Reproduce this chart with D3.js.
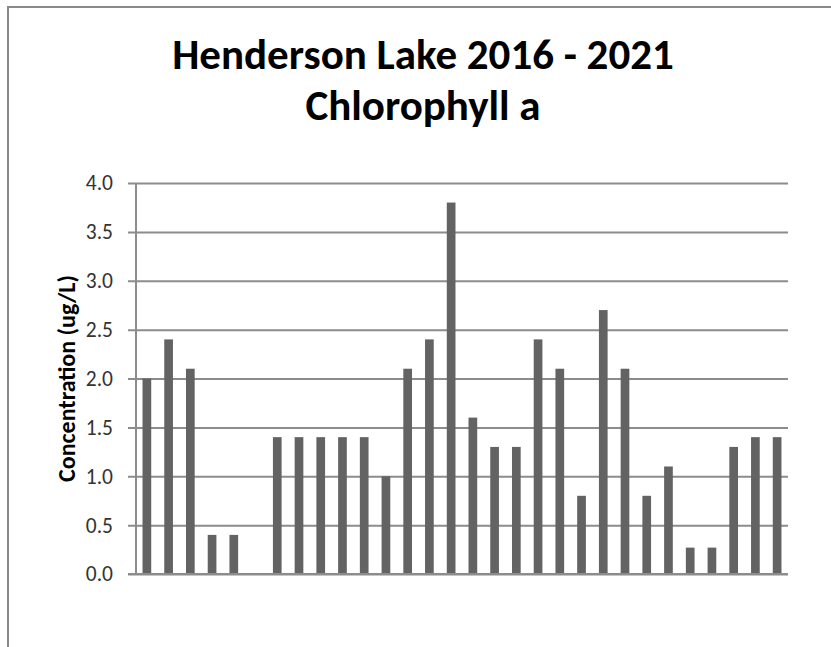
<!DOCTYPE html>
<html>

<head>
    <meta charset="UTF-8">
    <title>Henderson Lake Chlorophyll a</title>
    <script src="https://d3js.org/d3.v7.min.js"></script>
    <style>
        body {
            margin: 0;
            background-color: white;
        }
        text {
            font-family: Calibri, Carlito, Lato, sans-serif;
        }
    </style>
</head>

<body>
    <div id="chart">
    </div>
    <script>
        (function(d3) {

            // one value per sample, in the order drawn (null = no sample)
            var chlorophyll = [2.0, 2.4, 2.1, 0.4, 0.4, null,
                1.4, 1.4, 1.4, 1.4, 1.4, 1.0, 2.1, 2.4, 3.8, 1.6, 1.3, 1.3,
                2.4, 2.1, 0.8, 2.7, 2.1, 0.8, 1.1, 0.27, 0.27, 1.3, 1.4, 1.4];
            var samples = chlorophyll.map(function(d, i) { return 'S' + (i + 1); });
            var yTicks = [0, 0.5, 1.0, 1.5, 2.0, 2.5, 3.0, 3.5, 4.0];
            var titleLines = ['Henderson Lake 2016 - 2021', 'Chlorophyll a'];
            var yTitle = 'Concentration (ug/L)';

            var width = 831;
            var height = 647;
            var margin = { top: 183, right: 43, bottom: 73, left: 136 };
            var plotW = width - margin.left - margin.right;
            var plotH = height - margin.top - margin.bottom;

            var svg = d3.select('#chart')
                .append('svg')
                    .attr('width', width)
                    .attr('height', height);

            svg.append('rect')
                .attr('width', width)
                .attr('height', height)
                .attr('fill', 'white');

            // chart frame (runs off the right and bottom edges)
            svg.append('rect')
                .attr('x', 8)
                .attr('y', 7)
                .attr('width', width + 10)
                .attr('height', height + 10)
                .attr('fill', 'none')
                .attr('stroke', '#8a8a8a')
                .attr('stroke-width', 2);

            svg.selectAll('.title')
                .data(titleLines)
                .enter()
                .append('text')
                .attr('class', 'title')
                .attr('x', 423)
                .attr('y', function(d, i) { return 69 + i * 51; })
                .attr('text-anchor', 'middle')
                .style('font-size', '43px')
                .style('font-weight', 'bold')
                .attr('fill', '#000')
                .text(function(d) { return d; });

            var g = svg.append('g')
                .attr('transform', 'translate(' + margin.left + ',' + margin.top + ')');

            var x = d3.scaleBand()
                .domain(samples)
                .range([0, plotW])
                .paddingInner(0.6)
                .paddingOuter(0.3);

            var y = d3.scaleLinear()
                .domain([0, 4])
                .range([plotH, 0]);

            var yAxis = g.append('g')
                .call(d3.axisLeft(y)
                    .tickValues(yTicks)
                    .tickFormat(d3.format('.1f'))
                    .tickSizeInner(-plotW)
                    .tickSizeOuter(0)
                    .tickPadding(23));

            yAxis.select('.domain').remove();
            yAxis.selectAll('.tick line')
                .attr('x1', -8)
                .attr('stroke', '#8c8c8c')
                .attr('stroke-width', 2);
            yAxis.selectAll('.tick text')
                .style('font-size', '21.5px')
                .style('font-family', 'Calibri, Carlito, Lato, sans-serif')
                .attr('fill', '#333');

            // vertical axis line
            g.append('line')
                .attr('x1', 0)
                .attr('x2', 0)
                .attr('y1', 0)
                .attr('y2', plotH)
                .attr('stroke', '#8c8c8c')
                .attr('stroke-width', 2);

            g.selectAll('.bar')
                .data(chlorophyll.map(function(v, i) { return { key: samples[i], value: v }; })
                    .filter(function(d) { return d.value !== null; }))
                .enter()
                .append('rect')
                .attr('class', 'bar')
                .attr('x', function(d) { return x(d.key); })
                .attr('width', x.bandwidth())
                .attr('y', function(d) { return y(d.value); })
                .attr('height', function(d) { return plotH - y(d.value); })
                .attr('fill', '#636363');

            // zero line on top of bars
            g.append('line')
                .attr('x1', -8)
                .attr('x2', plotW)
                .attr('y1', plotH)
                .attr('y2', plotH)
                .attr('stroke', '#8c8c8c')
                .attr('stroke-width', 2);

            g.append('text')
                .attr('transform', 'translate(' + (75 - margin.left) + ',' + (plotH / 2) + ') rotate(-90)')
                .attr('text-anchor', 'middle')
                .style('font-size', '24px')
                .style('font-weight', 'bold')
                .attr('fill', '#000')
                .text(yTitle);

        })(window.d3);
    </script>
</body>

</html>
